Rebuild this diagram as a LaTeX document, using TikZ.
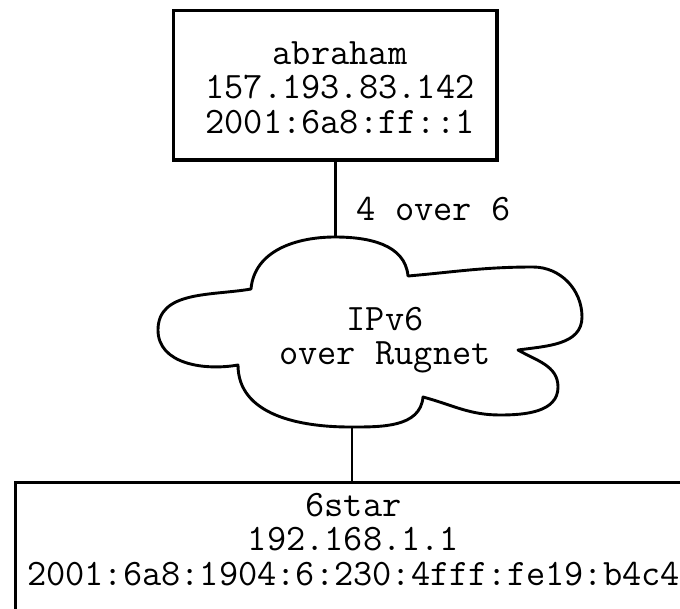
\documentclass[tikz,border=0pt]{standalone}
\begin{document}
\begin{tikzpicture}[x=1pt,y=1pt,
  box/.style={draw=black, line width=3.4pt, rectangle, inner sep=0pt, fill=white},
  txt/.style={font=\ttfamily\fontsize{37.3pt}{34.5pt}\selectfont, align=center, inner sep=0pt},
  wire/.style={draw=black, line width=2.8pt},
  cloudline/.style={draw=black, fill=white, line width=2.9pt, line join=round}]
\useasboundingbox (0,0) rectangle (680,-608);
\fill[white] (0,0) rectangle (680,-608);
\begin{scope}
\clip (0,0) rectangle (680,-608);
% boxes
\node[box, minimum width=323.5pt, minimum height=149.5pt] (abr) at (335.25,-85.25) {};
\node[txt] (abrtxt) at (340,-87.6) {abraham\\157.193.83.142\\2001:6a8:ff::1};
\node[box, minimum width=679pt, minimum height=200pt, anchor=north west] (star) at (14,-480.5) {};
\node[txt] (startxt) at (353.5,-539.1) {6star\\192.168.1.1\\2001:6a8:1904:6:230:4fff:fe19:b4c4};
% cloud anchors
\coordinate (cloudtop) at (335.25,-237);
\coordinate (cloudbot) at (352,-427);
% connectors
\draw[wire] (abr.south) -- (cloudtop);
\draw[wire] (cloudbot) -- (cloudbot |- star.north);
\node[txt, anchor=base west] (lbl) at (356.5,-220) {4 over 6};
% cloud
\path[cloudline] (251,-289) to[out=85,in=180] (335,-237) to[out=0,in=95] (408,-276)
  to[out=5,in=180] (533,-267) to[out=0,in=90] (582,-317) to[out=-90,in=8] (518,-350)
  to[out=-30,in=90] (558,-387) to[out=-90,in=0] (500,-415) to[out=180,in=-15] (423,-397)
  to[out=-95,in=0] (350,-427) to[out=180,in=-90] (238,-365)
  to[out=190,in=-90] (158,-330) to[out=90,in=190] (251,-289) -- cycle;
\node[txt] (cloudtxt) at (385,-340.3) {IPv6\\over Rugnet};
\end{scope}
\end{tikzpicture}
\end{document}
